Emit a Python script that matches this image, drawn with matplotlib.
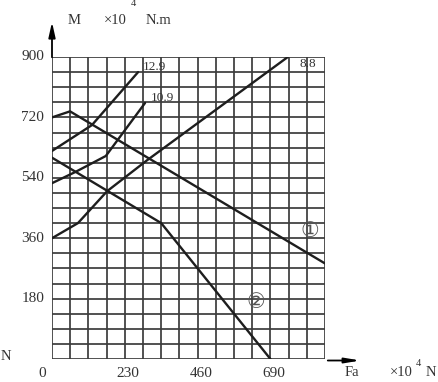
import numpy as np
import matplotlib
matplotlib.use("Agg")
import matplotlib.pyplot as plt

# axial force Fa (x10^4 N) vs moment M (x10^4 N.m)
line1_x = [0, 57, 862]
line1_y = [720, 738, 285]
line2_x = [0, 345, 690]
line2_y = [600, 405, 0]
bolt88_x = [0, 82, 174, 300, 745]
bolt88_y = [360, 405, 500, 592, 900]
bolt109_x = [0, 73, 170, 294]
bolt109_y = [524, 557, 605, 763]
bolt129_x = [0, 126, 272]
bolt129_y = [620, 697, 855]

x_ticks = [0, 230, 460, 690]
y_ticks = [180, 360, 540, 720, 900]
cell_x, cell_y = 57.5, 45.0
x_max, y_max = 862.5, 900

ink = "#1e1e1e"
txt = "#333333"
serif = "Liberation Serif"

fig = plt.figure(figsize=(4.38, 3.82), dpi=100)
ax = fig.add_axes([52 / 438, 23 / 382, 273 / 438, 302 / 382])
ax.set_xlim(0, x_max)
ax.set_ylim(0, y_max)
ax.axis("off")

# graph-paper grid
gx = np.arange(0, x_max + 1, cell_x)
gy = np.arange(0, y_max + 1, cell_y)
ax.vlines(gx, 0, y_max, color="#3c3c3c", lw=1.25, zorder=1)
ax.hlines(gy, 0, x_max, color="#3c3c3c", lw=1.25, zorder=1)

for xs, ys in [(line1_x, line1_y), (line2_x, line2_y), (bolt88_x, bolt88_y),
               (bolt109_x, bolt109_y), (bolt129_x, bolt129_y)]:
    ax.plot(xs, ys, color=ink, lw=1.7, zorder=3, solid_capstyle="round")

# curve labels
ax.text(bolt129_x[-1] + 50, bolt129_y[-1] + 15, "12.9", fontsize=9.5, family=serif,
        color=txt, ha="center", va="center", zorder=4)
ax.text(bolt109_x[-1] + 55, bolt109_y[-1] + 15, "10.9", fontsize=9.5, family=serif,
        color=txt, ha="center", va="center", zorder=4)
ax.text(bolt88_x[-1] + 62, bolt88_y[-1] - 20, "8.8", fontsize=9.5, family=serif,
        color=txt, ha="center", va="center", zorder=4)
ax.text(815, 380, "①", fontsize=15, family=["DejaVu Sans", "Noto Sans CJK SC"],
        color="#555555", ha="center", va="center", zorder=4)
ax.text(645, 170, "②", fontsize=15, family=["DejaVu Sans", "Noto Sans CJK SC"],
        color="#555555", ha="center", va="center", zorder=4)

# tick labels
for v in y_ticks:
    ax.text(-25, v, str(v), fontsize=11, family=serif, color=txt,
            ha="right", va="center")
for v in x_ticks:
    xo = v - 30 if v == 0 else v + 10
    ax.text(xo, -42, str(v), fontsize=11, family=serif, color=txt,
            ha="center", va="center")

# axis arrows
ax.annotate("", xy=(0, 1.125), xytext=(0, 0.99), xycoords="axes fraction",
            arrowprops=dict(arrowstyle="-|>,head_length=0.9,head_width=0.2",
                            color="black", lw=1.3), annotation_clip=False)
ax.annotate("", xy=(1.14, -0.005), xytext=(1.0, -0.005), xycoords="axes fraction",
            arrowprops=dict(arrowstyle="-|>,head_length=0.9,head_width=0.15",
                            color="black", lw=1.3), annotation_clip=False)

# axis titles (figure pixel positions)
def ftext(px, py, s, size=10.5, **kw):
    fig.text(px / 438, 1 - py / 382, s, fontsize=size, family=serif, color=txt,
             ha="center", va="center", **kw)

ftext(74, 20, "M")
ftext(115, 20, "×10")
ftext(133, 4, "4", size=7.5)
ftext(158, 20, "N.m")
ftext(352, 373, "Fa")
ftext(401, 373, "×10")
ftext(418, 364, "4", size=7.5)
ftext(431, 373, "N")
ftext(6, 356, "N")

fig.savefig("out.png", dpi=100, facecolor="white")
